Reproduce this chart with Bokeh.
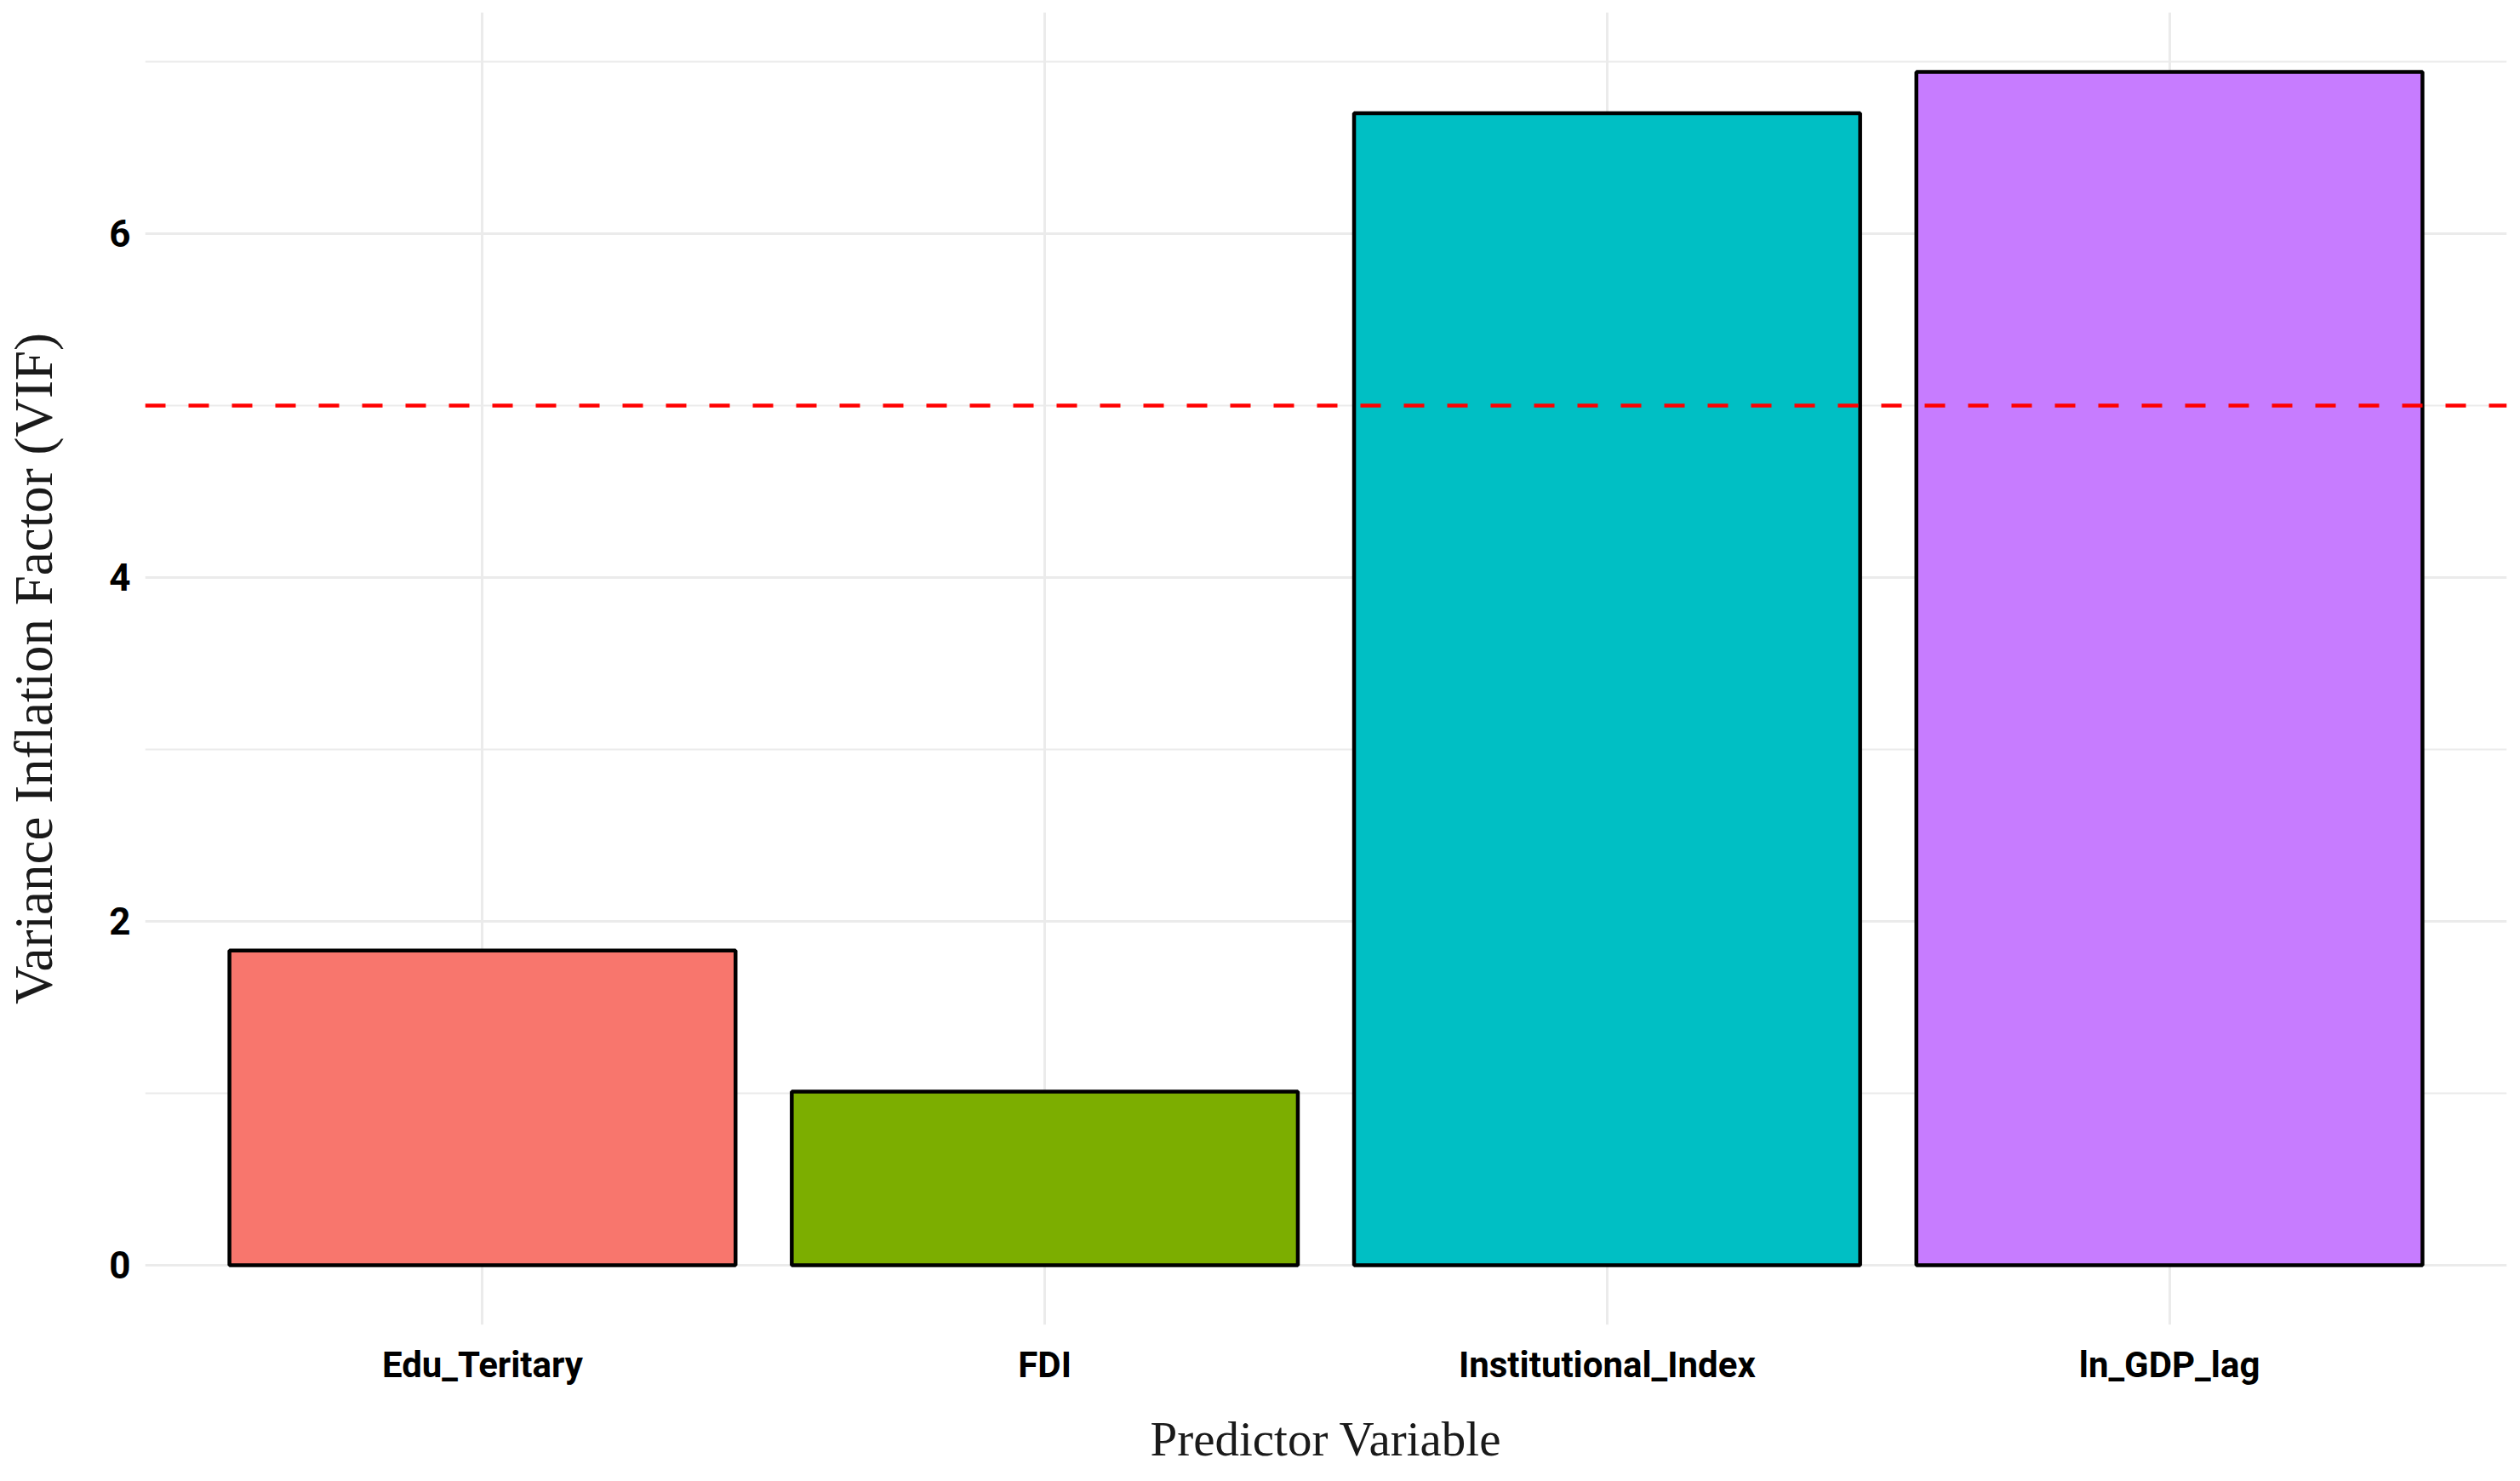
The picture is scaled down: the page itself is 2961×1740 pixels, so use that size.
from bokeh.plotting import figure
from bokeh.models import FactorRange, Range1d, Span, FixedTicker
from bokeh.embed import file_html
from bokeh.resources import INLINE

# ---- data ----
predictors = ["Edu_Teritary", "FDI", "Institutional_Index", "ln_GDP_lag"]
vif_values = [1.83, 1.01, 6.70, 6.94]
bar_colors = ["#F8766D", "#7CAE00", "#00BFC4", "#C77CFF"]
threshold = 5
y_ticks = [0, 2, 4, 6]
y_minor = [1, 3, 5, 7]

ymax = max(vif_values)
pad = 0.05 * ymax

p = figure(
    width=2953, height=1724,
    x_range=FactorRange(*predictors, range_padding=0.1, range_padding_units="absolute"),
    y_range=Range1d(-pad, ymax + pad),
    output_backend="svg", toolbar_location=None,
    min_border_left=170, min_border_right=8, min_border_top=14, min_border_bottom=168,
)

p.vbar(x=predictors, top=vif_values, bottom=0, width=0.9,
       fill_color=bar_colors, line_color="black", line_width=4.5)

p.add_layout(Span(location=threshold, dimension="width", line_color="red",
                  line_width=4.5, line_dash="24 27"))

p.outline_line_color = None
p.background_fill_color = "white"
p.border_fill_color = "white"

# grid
p.xgrid.grid_line_color = "#EBEBEB"
p.xgrid.grid_line_width = 3
p.yaxis.ticker = FixedTicker(ticks=y_ticks, minor_ticks=y_minor)
p.ygrid.grid_line_color = "#EBEBEB"
p.ygrid.grid_line_width = 3
p.ygrid.minor_grid_line_color = "#EBEBEB"
p.ygrid.minor_grid_line_width = 2

tick_font = "Roboto"
for ax in (p.xaxis[0], p.yaxis[0]):
    ax.axis_line_color = None
    ax.major_tick_line_color = None
    ax.minor_tick_line_color = None
    ax.major_tick_out = 0
    ax.major_tick_in = 0
    ax.minor_tick_out = 0
    ax.minor_tick_in = 0
    ax.major_label_text_font = tick_font
    ax.major_label_text_font_style = "bold"
    ax.major_label_text_color = "black"
    ax.axis_label_text_font = "Liberation Serif"
    ax.axis_label_text_font_style = "normal"
    ax.axis_label_text_color = "#1a1a1a"

p.xaxis.axis_label = "Predictor Variable"
p.xaxis.axis_label_text_font_size = "57px"
p.xaxis.major_label_text_font_size = "42px"
p.xaxis.major_label_standoff = 22
p.xaxis.axis_label_standoff = 28

p.yaxis.axis_label = "Variance Inflation Factor (VIF)"
p.yaxis.axis_label_text_font_size = "63px"
p.yaxis.major_label_text_font_size = "44px"
p.yaxis.major_label_standoff = 17
p.yaxis.axis_label_standoff = 50

open("out.html", "w").write(file_html(p, INLINE))
